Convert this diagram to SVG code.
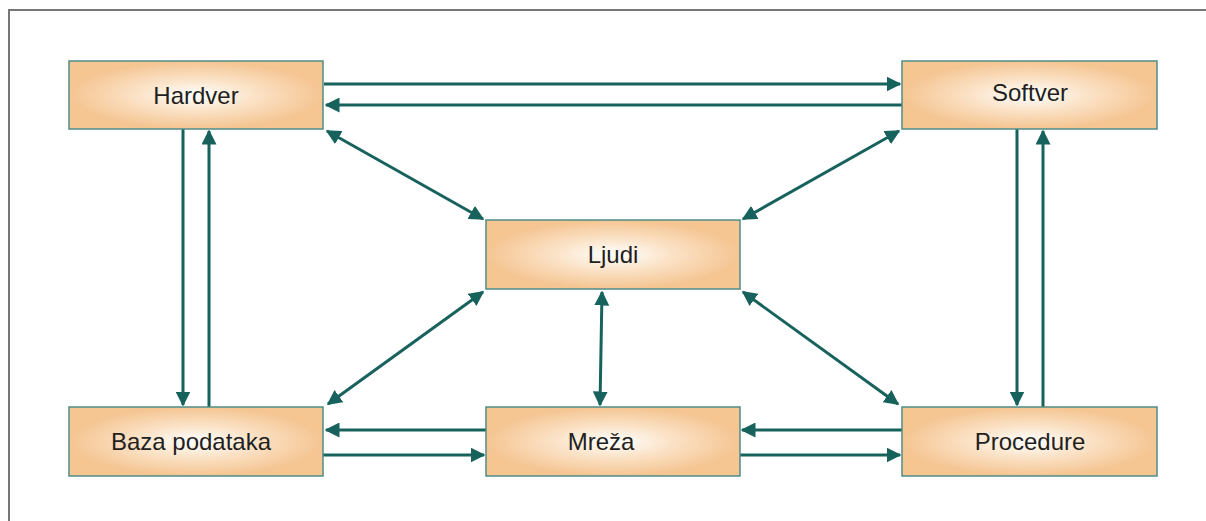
<svg xmlns="http://www.w3.org/2000/svg" width="1206" height="521" viewBox="0 0 1206 521">
<defs>
<radialGradient id="g" cx="0.5" cy="0.5" r="0.5" fx="0.5" fy="0.5" gradientTransform="translate(0.5,0.5) scale(1,1) translate(-0.5,-0.5)">
<stop offset="0" stop-color="#ffffff"/>
<stop offset="0.45" stop-color="#fbe3c8"/>
<stop offset="1" stop-color="#f5c592"/>
</radialGradient>
<marker id="ah" viewBox="0 0 10 10" refX="9" refY="5" markerWidth="5" markerHeight="5" orient="auto-start-reverse" markerUnits="strokeWidth">
<path d="M0,0 L10,5 L0,10 z" fill="#17625c"/>
</marker>
<style>
.node rect{fill:url(#g);stroke:#4f8d88;stroke-width:1.5}
.node text{font-family:"Liberation Sans",Arial,sans-serif;font-size:24px;fill:#231f20;text-anchor:middle}
.c line{stroke:#17625c;stroke-width:3;fill:none}
.one{marker-end:url(#ah)}
.two{marker-start:url(#ah);marker-end:url(#ah)}
</style>
</defs>
<rect width="1206" height="521" fill="#ffffff"/>
<path d="M9,521 V10 H1206" fill="none" stroke="#777777" stroke-width="2"/>
<g class="c">
<line class="one" x1="324" y1="84" x2="900" y2="84"/>
<line class="one" x1="902" y1="105" x2="326" y2="105"/>
<line class="one" x1="183" y1="129" x2="183" y2="405"/>
<line class="one" x1="209" y1="407" x2="209" y2="131"/>
<line class="one" x1="1017" y1="129" x2="1017" y2="405"/>
<line class="one" x1="1043" y1="407" x2="1043" y2="131"/>
<line class="one" x1="486" y1="430" x2="326" y2="430"/>
<line class="one" x1="323" y1="455" x2="484" y2="455"/>
<line class="one" x1="902" y1="430" x2="742" y2="430"/>
<line class="one" x1="740" y1="455" x2="900" y2="455"/>
<line class="two" x1="327" y1="131" x2="483" y2="219"/>
<line class="two" x1="899" y1="131" x2="743" y2="219"/>
<line class="two" x1="483" y1="292" x2="328" y2="404"/>
<line class="two" x1="743" y1="292" x2="898" y2="404"/>
<line class="two" x1="602" y1="292" x2="600" y2="405"/>
</g>
<g id="hardver" class="node"><rect x="69" y="61" width="254" height="68"/><text x="196" y="104">Hardver</text></g>
<g id="softver" class="node"><rect x="902" y="61" width="255" height="68"/><text x="1030" y="101">Softver</text></g>
<g id="ljudi" class="node"><rect x="486" y="220" width="254" height="69"/><text x="613" y="263">Ljudi</text></g>
<g id="baza" class="node"><rect x="69" y="407" width="254" height="69"/><text x="191" y="450">Baza podataka</text></g>
<g id="mreza" class="node"><rect x="486" y="407" width="254" height="69"/><text x="601" y="450">Mreža</text></g>
<g id="procedure" class="node"><rect x="902" y="407" width="255" height="69"/><text x="1030" y="450">Procedure</text></g>
</svg>
